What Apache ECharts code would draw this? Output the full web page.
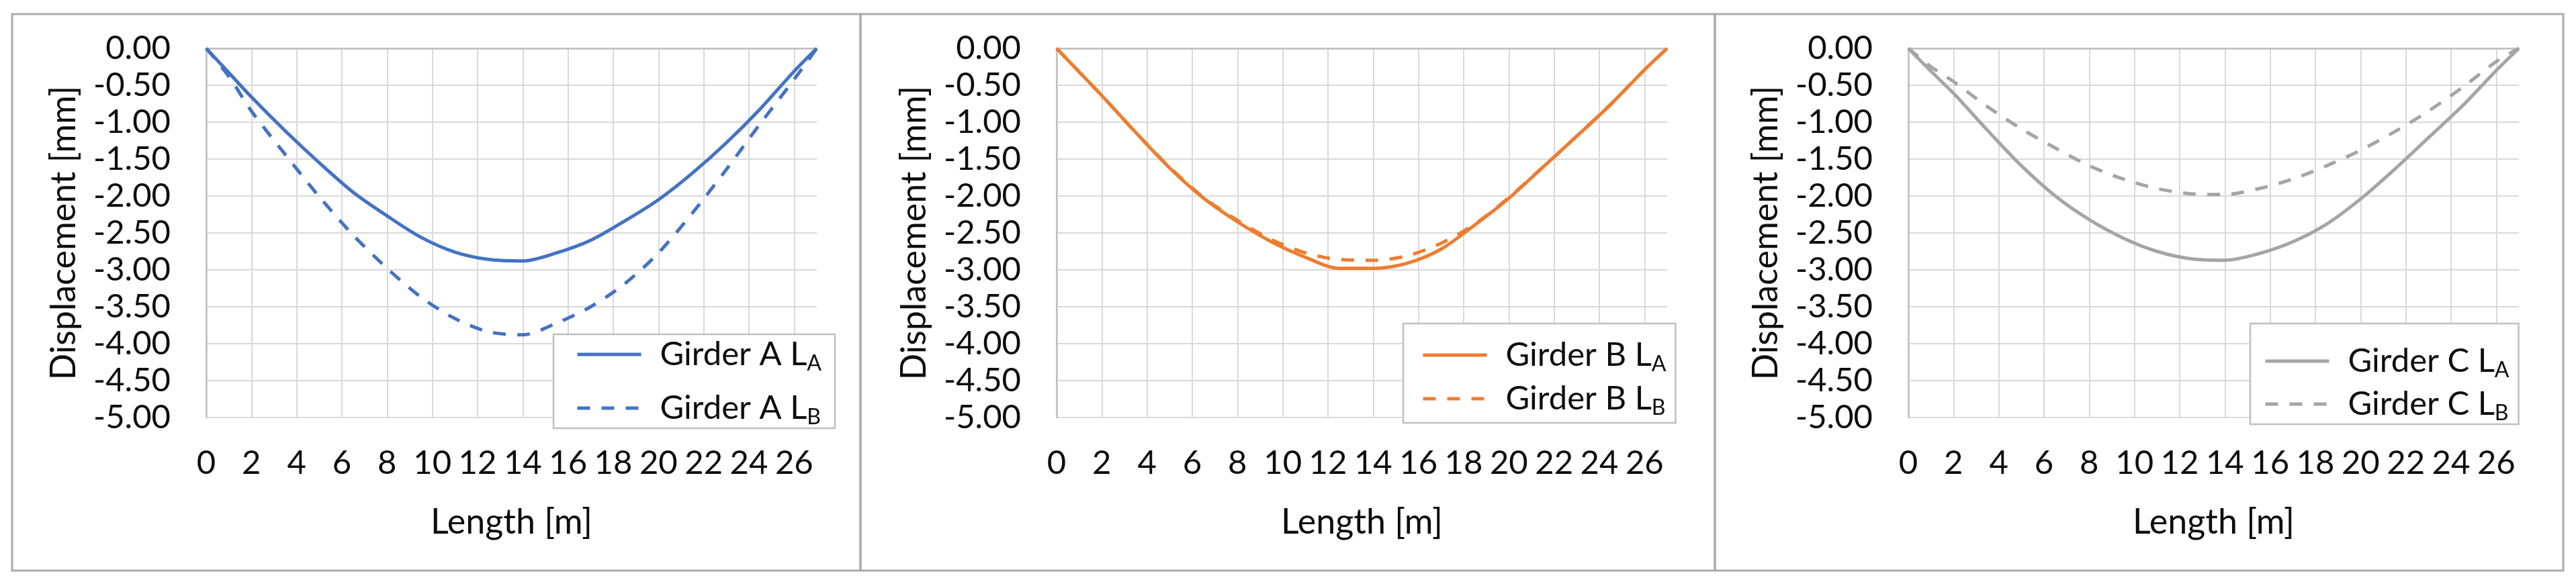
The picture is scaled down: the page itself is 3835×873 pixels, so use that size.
<!DOCTYPE html>
<html>
<head>
<meta charset="utf-8">
<script src="https://cdn.jsdelivr.net/npm/echarts@6/dist/echarts.min.js"></script>
<style>
html,body{margin:0;padding:0;background:#fff;overflow:hidden;}
#chart{width:3835px;height:873px;}
</style>
</head>
<body>
<div id="chart"></div>
<script>
// ---- data ----
const lengthM = [0, 1, 2, 3.5, 5, 6.5, 8, 9.5, 11, 12.5, 14, 15.5, 17, 18.5, 20, 21.5, 23, 24.5, 26, 27];
const girderA_LA = [0, -0.33, -0.66, -1.12, -1.55, -1.95, -2.27, -2.56, -2.76, -2.86, -2.88, -2.77, -2.60, -2.34, -2.05, -1.69, -1.28, -0.82, -0.31, 0];
const girderA_LB = [0, -0.38, -0.85, -1.44, -2.01, -2.53, -2.98, -3.37, -3.66, -3.84, -3.88, -3.72, -3.50, -3.19, -2.77, -2.23, -1.64, -1.02, -0.42, 0];
const girderB_LA = [0, -0.32, -0.64, -1.14, -1.62, -2.03, -2.35, -2.62, -2.83, -2.98, -2.98, -2.91, -2.72, -2.39, -2.03, -1.61, -1.19, -0.76, -0.29, 0];
const girderB_LB = [0, -0.32, -0.64, -1.14, -1.61, -2.02, -2.33, -2.59, -2.77, -2.86, -2.87, -2.81, -2.64, -2.38, -2.02, -1.61, -1.19, -0.76, -0.29, 0];
const girderC_LA = [0, -0.31, -0.61, -1.11, -1.59, -2.00, -2.32, -2.57, -2.75, -2.85, -2.87, -2.78, -2.62, -2.38, -2.04, -1.64, -1.21, -0.78, -0.30, 0];
const girderC_LB = [0, -0.25, -0.45, -0.79, -1.09, -1.35, -1.59, -1.77, -1.90, -1.97, -1.98, -1.90, -1.77, -1.59, -1.38, -1.13, -0.85, -0.53, -0.18, 0];
const seriesNames = [['Girder A LA', 'Girder A LB'], ['Girder B LA', 'Girder B LB'], ['Girder C LA', 'Girder C LB']];
const seriesValues = [[girderA_LA, girderA_LB], [girderB_LA, girderB_LB], [girderC_LA, girderC_LB]];
const colors = ['#4472C4', '#ED7D31', '#A5A5A5'];
const xTitle = 'Length [m]';
const yTitle = 'Displacement [mm]';
const xMin = 0, xMax = 27, xStep = 2;
const yMin = -5, yMax = 0, yStep = 0.5;

// ---- layout ----
const FONT = 'Lato';
const TXT = '#0d0d0d';
const gridLefts = [307, 1573, 2841];
const gridW = 909, gridTop = 72, gridH = 550;
const panels = [[18, 1263], [1281, 1272], [2553, 1263]];
const legendPos = [
  {left: 824, top: 498, padding: [0, 20, 0, 33], itemGap: 20},
  {left: 2089, top: 482, padding: [17, 14, 6, 27], itemGap: 5},
  {left: 3350, top: 482, padding: [26, 14, 0, 20], itemGap: 4}
];

const pair = (xs, ys) => xs.map((x, i) => [x, ys[i]]);

const grid = [], xAxis = [], yAxis = [], series = [], legend = [], graphic = [];
for (let p = 0; p < 3; p++) {
  grid.push({left: gridLefts[p], top: gridTop, width: gridW, height: gridH, containLabel: false});
  xAxis.push({
    type: 'value', gridIndex: p, min: xMin, max: xMax, interval: xStep, position: 'bottom',
    name: xTitle, nameLocation: 'middle', nameGap: 130,
    nameTextStyle: {fontFamily: FONT, fontSize: 52, color: TXT},
    axisLine: {show: false}, axisTick: {show: false},
    axisLabel: {fontFamily: FONT, fontSize: 49, color: TXT, margin: 44, showMaxLabel: false},
    splitLine: {show: true, showMaxLine: false, lineStyle: {color: '#d9d9d9', width: 2}}
  });
  xAxis.push({
    type: 'value', gridIndex: p, min: xMin, max: xMax, position: 'top',
    axisLine: {show: true, onZero: false, lineStyle: {color: '#bfbfbf', width: 2.5}},
    axisTick: {show: false}, axisLabel: {show: false}, splitLine: {show: false}
  });
  yAxis.push({
    type: 'value', gridIndex: p, min: yMin, max: yMax, interval: yStep,
    name: yTitle, nameLocation: 'middle', nameGap: 186,
    nameTextStyle: {fontFamily: FONT, fontSize: 52, color: TXT},
    axisLine: {show: true, onZero: false, lineStyle: {color: '#bfbfbf', width: 2.5}},
    axisTick: {show: false},
    axisLabel: {fontFamily: FONT, fontSize: 49, color: TXT, margin: 53, formatter: v => v.toFixed(2)},
    splitLine: {show: true, lineStyle: {color: '#d9d9d9', width: 2}}
  });
  for (let k = 0; k < 2; k++) {
    series.push({
      type: 'line', name: seriesNames[p][k], xAxisIndex: p * 2, yAxisIndex: p,
      data: pair(lengthM, seriesValues[p][k]), symbol: 'none', smooth: 0.3,
      lineStyle: {color: colors[p], width: 5, type: k === 0 ? 'solid' : [19, 17]},
      itemStyle: {color: colors[p]}
    });
  }
  const lp = legendPos[p];
  legend.push({
    data: seriesNames[p], orient: 'vertical', left: lp.left, top: lp.top, padding: lp.padding,
    itemGap: lp.itemGap, itemWidth: 95, itemHeight: 14,
    backgroundColor: '#fff', borderColor: '#bfbfbf', borderWidth: 2.5,
    itemStyle: {opacity: 0},
    lineStyle: {width: 5},
    formatter: n => '{gap|}' + n.slice(0, -1) + '{sub|' + n.slice(-1) + '}',
    textStyle: {
      fontFamily: FONT, fontSize: 49, color: TXT, lineHeight: 40,
      rich: {
        gap: {width: 23},
        sub: {fontFamily: FONT, fontSize: 32, color: TXT, lineHeight: 10, padding: [28, 0, 0, 0]}
      }
    }
  });
  graphic.push({
    type: 'rect', silent: true, z: -1,
    shape: {x: panels[p][0], y: 21, width: panels[p][1], height: 829},
    style: {fill: 'none', stroke: '#ababab', lineWidth: 3}
  });
}

const chart = echarts.init(document.getElementById('chart'), null, {renderer: 'canvas'});
chart.setOption({
  backgroundColor: '#fff', animation: false,
  grid, xAxis, yAxis, series, legend, graphic
});
</script>
</body>
</html>
